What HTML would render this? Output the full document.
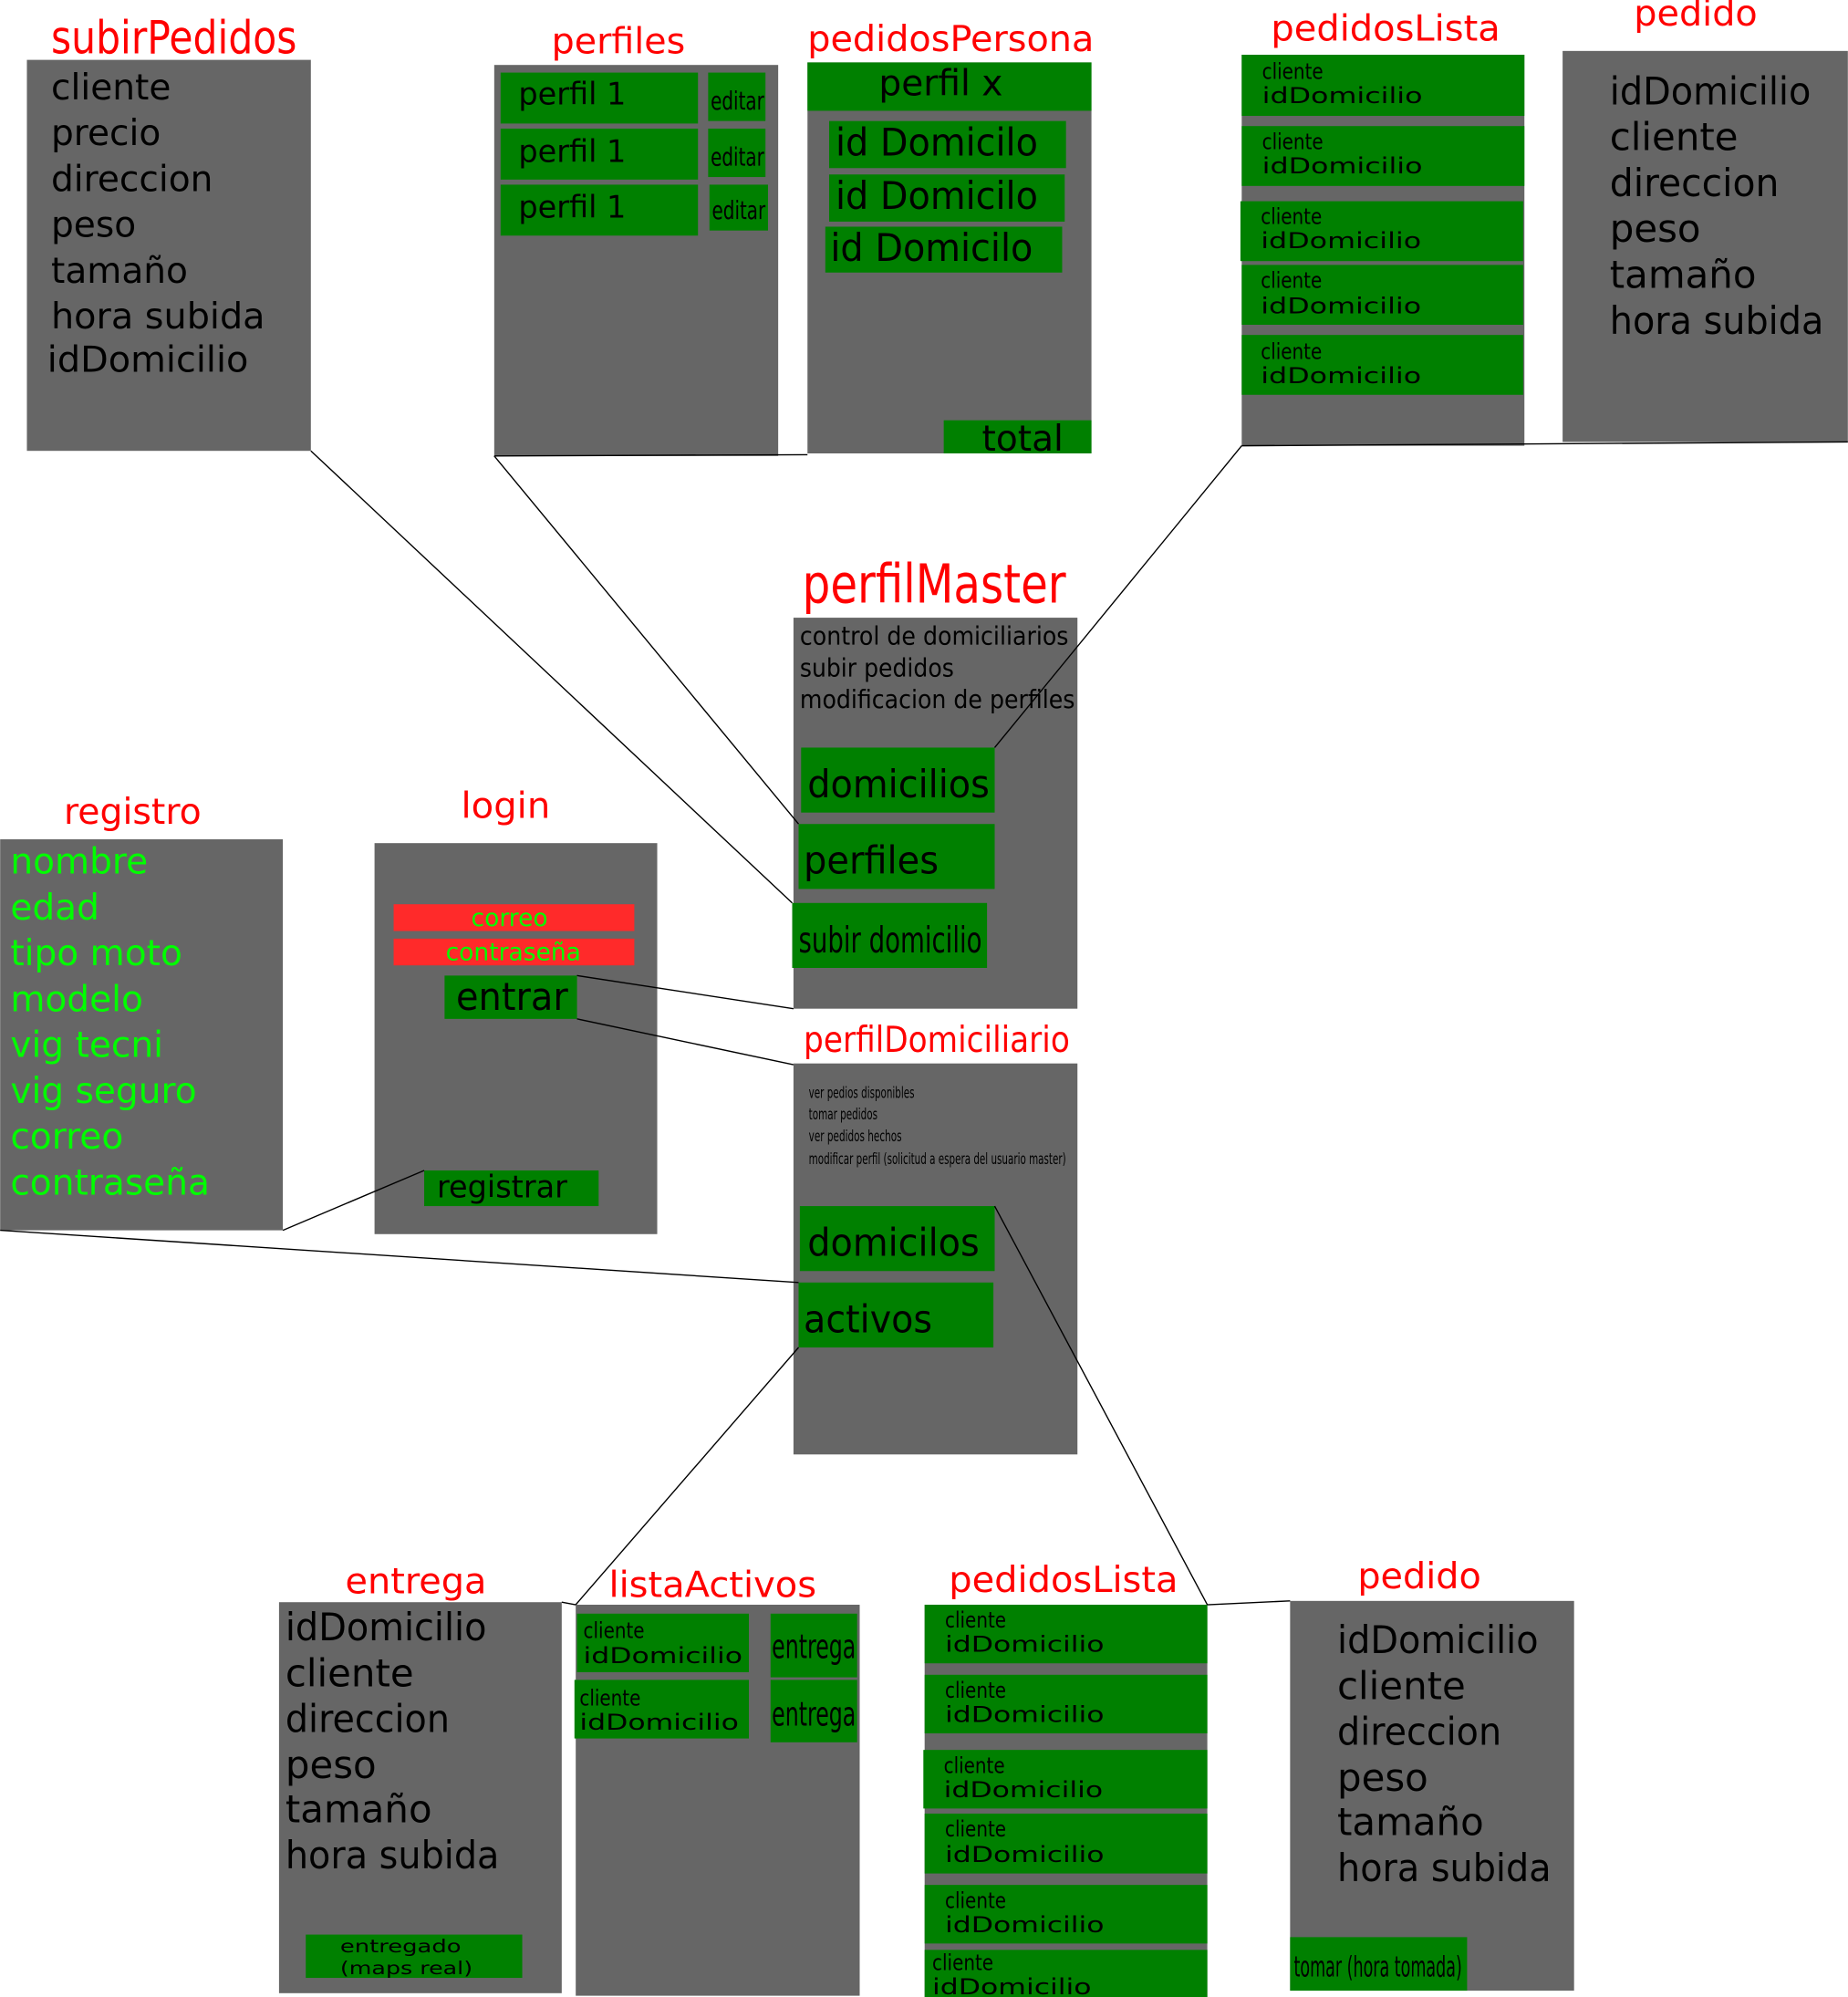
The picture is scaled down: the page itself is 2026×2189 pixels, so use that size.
<!DOCTYPE html>
<html><head><meta charset="utf-8"><style>
html,body{margin:0;padding:0;background:#fff;}
svg{display:block;}
text{font-family:"DejaVu Sans","Liberation Sans",sans-serif;}
.t{fill:#ff0000;}
.k{fill:#000;}
.g{fill:#00ff00;}
</style></head><body>
<svg width="2026" height="2189" viewBox="0 0 1451 1568" xmlns="http://www.w3.org/2000/svg">
<g fill="#666666">
<rect x="21" y="47" width="223" height="307"/>
<rect x="388" y="51" width="223" height="307"/>
<rect x="634" y="49" width="223" height="307"/>
<rect x="975" y="43" width="222" height="307"/>
<rect x="1227" y="40" width="224" height="307"/>
<rect x="623" y="485" width="223" height="307"/>
<rect x="0" y="659" width="222" height="307"/>
<rect x="294" y="662" width="222" height="307"/>
<rect x="623" y="835" width="223" height="307"/>
<rect x="219" y="1258" width="222" height="307"/>
<rect x="452" y="1260" width="223" height="307"/>
<rect x="726" y="1260" width="222" height="308"/>
<rect x="1013" y="1257" width="223" height="306"/>
</g>
<g fill="#008000">
<rect x="393" y="57" width="155" height="40"/><rect x="556" y="57" width="45" height="38"/>
<rect x="393" y="101" width="155" height="40"/><rect x="556" y="101" width="45" height="38"/>
<rect x="393" y="145" width="155" height="40"/><rect x="557" y="145" width="46" height="36"/>
<rect x="634" y="49" width="223" height="38"/>
<rect x="651" y="95" width="186" height="37"/>
<rect x="651" y="137" width="185" height="37"/>
<rect x="648" y="178" width="186" height="36"/>
<rect x="741" y="330" width="116" height="26"/>
<rect x="975" y="43" width="222" height="48"/>
<rect x="975" y="99" width="222" height="47"/>
<rect x="974" y="158" width="222" height="47"/>
<rect x="975" y="208" width="221" height="47"/>
<rect x="975" y="263" width="221" height="47"/>
<rect x="629" y="587" width="152" height="51"/>
<rect x="627" y="647" width="154" height="51"/>
<rect x="622" y="709" width="153" height="51"/>
<rect x="349" y="766" width="104" height="34"/>
<rect x="333" y="919" width="137" height="28"/>
<rect x="628" y="947" width="153" height="51"/>
<rect x="627" y="1007" width="153" height="51"/>
<rect x="240" y="1519" width="170" height="34"/>
<rect x="453" y="1267" width="135" height="46"/>
<rect x="451" y="1319" width="137" height="46"/>
<rect x="605" y="1267" width="68" height="50"/>
<rect x="605" y="1319" width="68" height="49"/>
<rect x="726" y="1260" width="222" height="46"/>
<rect x="726" y="1315" width="222" height="46"/>
<rect x="725" y="1374" width="223" height="46"/>
<rect x="726" y="1424" width="222" height="47"/>
<rect x="726" y="1480" width="222" height="46"/>
<rect x="726" y="1531" width="222" height="37"/>
<rect x="1013" y="1521" width="139" height="42"/>
</g>
<g fill="#ff2a2a">
<rect x="309" y="710" width="189" height="21"/>
<rect x="309" y="737" width="189" height="21"/>
</g>
<g stroke="#000" stroke-width="1" fill="none">
<line x1="244" y1="354" x2="622" y2="709"/>
<line x1="388" y1="358" x2="627" y2="647"/>
<line x1="388" y1="358" x2="634" y2="357"/>
<line x1="975" y1="350" x2="781" y2="587"/>
<line x1="975" y1="350" x2="1451" y2="347"/>
<line x1="453" y1="766" x2="623" y2="792"/>
<line x1="453" y1="800" x2="623" y2="836"/>
<line x1="333" y1="919" x2="222" y2="966"/>
<line x1="0" y1="966" x2="627" y2="1007"/>
<line x1="781" y1="947" x2="948" y2="1260"/>
<line x1="627" y1="1058" x2="452" y2="1260"/>
<line x1="441" y1="1258" x2="452" y2="1260"/>
<line x1="948" y1="1260" x2="1013" y2="1257"/>
</g>
<g class="t" font-size="36">
<text x="40" y="42" textLength="193" lengthAdjust="spacingAndGlyphs">subirPedidos</text>
<text x="433" y="42" font-size="28" textLength="105" lengthAdjust="spacingAndGlyphs">perfiles</text>
<text x="634" y="40" font-size="28" textLength="225" lengthAdjust="spacingAndGlyphs">pedidosPersona</text>
<text x="998" y="32" font-size="28" textLength="180" lengthAdjust="spacingAndGlyphs">pedidosLista</text>
<text x="1283" y="20" font-size="28" textLength="97" lengthAdjust="spacingAndGlyphs">pedido</text>
<text x="630" y="473" font-size="42" textLength="207" lengthAdjust="spacingAndGlyphs">perfilMaster</text>
<text x="50" y="647" font-size="28" textLength="108" lengthAdjust="spacingAndGlyphs">registro</text>
<text x="362" y="642" font-size="28" textLength="70" lengthAdjust="spacingAndGlyphs">login</text>
<text x="631" y="826" font-size="28" textLength="209" lengthAdjust="spacingAndGlyphs">perfilDomiciliario</text>
<text x="271" y="1251" font-size="28" textLength="111" lengthAdjust="spacingAndGlyphs">entrega</text>
<text x="478" y="1254" font-size="28" textLength="163" lengthAdjust="spacingAndGlyphs">listaActivos</text>
<text x="745" y="1250" font-size="28" textLength="180" lengthAdjust="spacingAndGlyphs">pedidosLista</text>
<text x="1066" y="1247" font-size="28" textLength="97" lengthAdjust="spacingAndGlyphs">pedido</text>
</g>
<g class="k" font-size="28">
<text x="40" y="78">cliente</text>
<text x="40" y="114">precio</text>
<text x="40" y="150">direccion</text>
<text x="40" y="186">peso</text>
<text x="40" y="222">tamaño</text>
<text x="40" y="258" textLength="168" lengthAdjust="spacingAndGlyphs">hora subida</text>
<text x="37" y="292" textLength="158" lengthAdjust="spacingAndGlyphs">idDomicilio</text>

<text x="407" y="82" font-size="24">perfil 1</text>
<text x="407" y="127" font-size="24">perfil 1</text>
<text x="407" y="171" font-size="24">perfil 1</text>
<text x="558" y="86" font-size="20" textLength="42" lengthAdjust="spacingAndGlyphs">editar</text>
<text x="558" y="130" font-size="20" textLength="42" lengthAdjust="spacingAndGlyphs">editar</text>
<text x="559" y="172" font-size="20" textLength="42" lengthAdjust="spacingAndGlyphs">editar</text>

<text x="690" y="75">perfil x</text>
<text x="656" y="122" font-size="30" textLength="159" lengthAdjust="spacingAndGlyphs">id Domicilo</text>
<text x="656" y="164" font-size="30" textLength="159" lengthAdjust="spacingAndGlyphs">id Domicilo</text>
<text x="652" y="205" font-size="30" textLength="159" lengthAdjust="spacingAndGlyphs">id Domicilo</text>
<text x="771" y="354">total</text>

<g font-size="17">
<text x="991" y="62" textLength="48" lengthAdjust="spacingAndGlyphs">cliente</text><text x="991" y="81" textLength="126" lengthAdjust="spacingAndGlyphs">idDomicilio</text>
<text x="991" y="117" textLength="48" lengthAdjust="spacingAndGlyphs">cliente</text><text x="991" y="136" textLength="126" lengthAdjust="spacingAndGlyphs">idDomicilio</text>
<text x="990" y="176" textLength="48" lengthAdjust="spacingAndGlyphs">cliente</text><text x="990" y="195" textLength="126" lengthAdjust="spacingAndGlyphs">idDomicilio</text>
<text x="990" y="226" textLength="48" lengthAdjust="spacingAndGlyphs">cliente</text><text x="990" y="246" textLength="126" lengthAdjust="spacingAndGlyphs">idDomicilio</text>
<text x="990" y="282" textLength="48" lengthAdjust="spacingAndGlyphs">cliente</text><text x="990" y="301" textLength="126" lengthAdjust="spacingAndGlyphs">idDomicilio</text>
</g>

<g font-size="30">
<text x="1264" y="82" textLength="158" lengthAdjust="spacingAndGlyphs">idDomicilio</text>
<text x="1264" y="118">cliente</text>
<text x="1264" y="154" textLength="133" lengthAdjust="spacingAndGlyphs">direccion</text>
<text x="1264" y="190">peso</text>
<text x="1264" y="226">tamaño</text>
<text x="1264" y="262" textLength="168" lengthAdjust="spacingAndGlyphs">hora subida</text>
</g>

<g font-size="20">
<text x="628" y="506" textLength="211" lengthAdjust="spacingAndGlyphs">control de domiciliarios</text>
<text x="628" y="531" textLength="121" lengthAdjust="spacingAndGlyphs">subir pedidos</text>
<text x="628" y="556" textLength="216" lengthAdjust="spacingAndGlyphs">modificacion de perfiles</text>
</g>
<text x="634" y="626" font-size="30" textLength="143" lengthAdjust="spacingAndGlyphs">domicilios</text>
<text x="631" y="686" font-size="30" textLength="106" lengthAdjust="spacingAndGlyphs">perfiles</text>
<text x="627" y="748" font-size="28" textLength="144" lengthAdjust="spacingAndGlyphs">subir domicilio</text>

<text x="358" y="793" font-size="30" textLength="88" lengthAdjust="spacingAndGlyphs">entrar</text>
<text x="343" y="940" font-size="24">registrar</text>

<g font-size="12">
<text x="635" y="862" textLength="83" lengthAdjust="spacingAndGlyphs">ver pedios disponibles</text>
<text x="635" y="879" textLength="54" lengthAdjust="spacingAndGlyphs">tomar pedidos</text>
<text x="635" y="896" textLength="73" lengthAdjust="spacingAndGlyphs">ver pedidos hechos</text>
<text x="635" y="914" textLength="202" lengthAdjust="spacingAndGlyphs">modificar perfil (solicitud a espera del usuario master)</text>
</g>
<text x="634" y="986" font-size="30" textLength="135" lengthAdjust="spacingAndGlyphs">domicilos</text>
<text x="631" y="1046" font-size="30" textLength="101" lengthAdjust="spacingAndGlyphs">activos</text>

<g font-size="30">
<text x="224" y="1288" textLength="158" lengthAdjust="spacingAndGlyphs">idDomicilio</text>
<text x="224" y="1324">cliente</text>
<text x="224" y="1360" textLength="129" lengthAdjust="spacingAndGlyphs">direccion</text>
<text x="224" y="1396">peso</text>
<text x="224" y="1431">tamaño</text>
<text x="224" y="1467" textLength="168" lengthAdjust="spacingAndGlyphs">hora subida</text>
</g>
<text x="267" y="1533" font-size="14" textLength="95" lengthAdjust="spacingAndGlyphs">entregado</text>
<text x="267" y="1550" font-size="14" textLength="104" lengthAdjust="spacingAndGlyphs">(maps real)</text>

<g font-size="17">
<text x="458" y="1286" textLength="48" lengthAdjust="spacingAndGlyphs">cliente</text><text x="458" y="1306" textLength="125" lengthAdjust="spacingAndGlyphs">idDomicilio</text>
<text x="455" y="1339" textLength="48" lengthAdjust="spacingAndGlyphs">cliente</text><text x="455" y="1358" textLength="125" lengthAdjust="spacingAndGlyphs">idDomicilio</text>
</g>
<text x="606" y="1302" font-size="26" textLength="66" lengthAdjust="spacingAndGlyphs">entrega</text>
<text x="606" y="1355" font-size="26" textLength="66" lengthAdjust="spacingAndGlyphs">entrega</text>

<g font-size="17">
<text x="742" y="1278" textLength="48" lengthAdjust="spacingAndGlyphs">cliente</text><text x="742" y="1297" textLength="125" lengthAdjust="spacingAndGlyphs">idDomicilio</text>
<text x="742" y="1333" textLength="48" lengthAdjust="spacingAndGlyphs">cliente</text><text x="742" y="1352" textLength="125" lengthAdjust="spacingAndGlyphs">idDomicilio</text>
<text x="741" y="1392" textLength="48" lengthAdjust="spacingAndGlyphs">cliente</text><text x="741" y="1411" textLength="125" lengthAdjust="spacingAndGlyphs">idDomicilio</text>
<text x="742" y="1442" textLength="48" lengthAdjust="spacingAndGlyphs">cliente</text><text x="742" y="1462" textLength="125" lengthAdjust="spacingAndGlyphs">idDomicilio</text>
<text x="742" y="1498" textLength="48" lengthAdjust="spacingAndGlyphs">cliente</text><text x="742" y="1517" textLength="125" lengthAdjust="spacingAndGlyphs">idDomicilio</text>
<text x="732" y="1547" textLength="48" lengthAdjust="spacingAndGlyphs">cliente</text><text x="732" y="1566" textLength="125" lengthAdjust="spacingAndGlyphs">idDomicilio</text>
</g>

<g font-size="30">
<text x="1050" y="1298" textLength="158" lengthAdjust="spacingAndGlyphs">idDomicilio</text>
<text x="1050" y="1334">cliente</text>
<text x="1050" y="1370" textLength="129" lengthAdjust="spacingAndGlyphs">direccion</text>
<text x="1050" y="1406">peso</text>
<text x="1050" y="1441">tamaño</text>
<text x="1050" y="1477" textLength="168" lengthAdjust="spacingAndGlyphs">hora subida</text>
</g>
<text x="1016" y="1552" font-size="22" textLength="132" lengthAdjust="spacingAndGlyphs">tomar (hora tomada)</text>
</g>
<g class="g" font-size="28">
<text x="8" y="686">nombre</text>
<text x="8" y="722">edad</text>
<text x="8" y="758">tipo moto</text>
<text x="8" y="794">modelo</text>
<text x="8" y="830">vig tecni</text>
<text x="8" y="866">vig seguro</text>
<text x="8" y="902">correo</text>
<text x="8" y="938">contraseña</text>
<text x="400" y="727" font-size="19" text-anchor="middle">correo</text>
<text x="403" y="754" font-size="19" text-anchor="middle">contraseña</text>
</g>
</svg>
</body></html>
